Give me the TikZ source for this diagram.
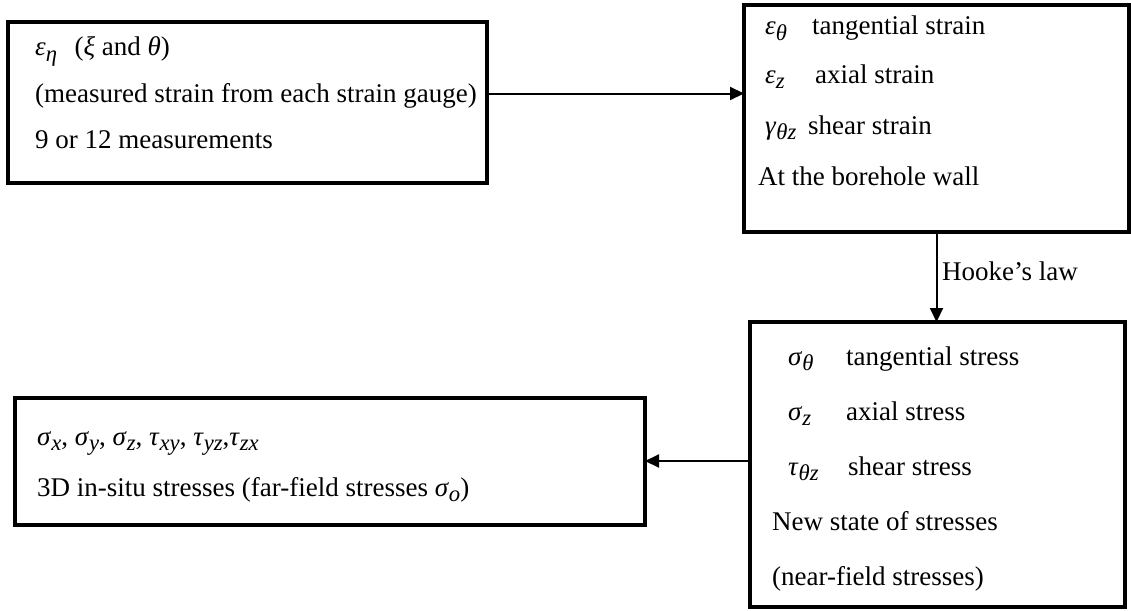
\documentclass[tikz,border=0pt]{standalone}
\usepackage{fontspec}
\usepackage{graphicx}
\setmainfont{Liberation Serif}
\usetikzlibrary{arrows.meta}
% Greek symbol with an italic subscript
\newcommand\gsym[2]{\textit{#1}\raisebox{-0.2em}{\scalebox{0.84}{\textit{#2}}}}
\begin{document}
\begin{tikzpicture}[x=1pt,y=-1pt,
  box/.style={draw,line width=3.5pt,inner sep=0pt,outer sep=0pt,anchor=north west},
  txt/.style={anchor=base west,inner sep=0pt,font=\fontsize{27}{32}\selectfont},
  conn/.style={line width=2pt,-{Triangle[length=14pt,width=13pt]}}]
\useasboundingbox (0,0) rectangle (1131,610);

% boxes
\node[box,minimum width=479pt,minimum height=161pt] (b1) at (8,22) {};
\node[box,minimum width=385pt,minimum height=227pt] (b2) at (744,5) {};
\node[box,minimum width=375pt,minimum height=285pt] (b3) at (750,322) {};
\node[box,minimum width=630pt,minimum height=127pt] (b4) at (15,398) {};

% measured strains
\node[txt] (t11) at (35,56) {\gsym{ε}{η}\hspace{0.4em} (\textit{ξ} and \textit{θ})};
\node[txt] (t12) at (35,102) {(measured strain from each strain gauge)};
\node[txt] (t13) at (35,148) {9 or 12 measurements};

% strains at the borehole wall
\node[txt] (s21) at (765,35) {\gsym{ε}{θ}};
\node[txt] (t21) at (812,35) {tangential strain};
\node[txt] (s22) at (765,83) {\gsym{ε}{z}};
\node[txt] (t22) at (815,83) {axial strain};
\node[txt] (s23) at (765,134) {\gsym{γ}{θz}};
\node[txt] (t23) at (808,134) {shear strain};
\node[txt] (t24) at (758,185) {At the borehole wall};

% near-field stresses
\node[txt] (s31) at (788,365) {\gsym{σ}{θ}};
\node[txt] (t31) at (846,365) {tangential stress};
\node[txt] (s32) at (788,420) {\gsym{σ}{z}};
\node[txt] (t32) at (846,420) {axial stress};
\node[txt] (s33) at (788,475) {\gsym{τ}{θz}};
\node[txt] (t33) at (848,475) {shear stress};
\node[txt] (t34) at (772,530) {New state of stresses};
\node[txt] (t35) at (772,585) {(near-field stresses)};

% far-field stresses
\node[txt] (t41) at (37,445) {\gsym{σ}{x}, \gsym{σ}{y}, \gsym{σ}{z}, \gsym{τ}{xy}, \gsym{τ}{yz},\gsym{τ}{zx}};
\node[txt] (t42) at (37,496) {3D in-situ stresses (far-field stresses \gsym{σ}{o})};

% connectors
\draw[conn] ([yshift=9pt]b1.east) -- ([yshift=9pt]b1.east -| b2.west);
\draw[conn] (b2.south) -- (b2.south |- b3.north);
\node[txt,anchor=west] (hl) at (942,271) {Hooke’s law};
\draw[conn] ([yshift=3.5pt]b3.west) -- ([yshift=3.5pt]b3.west -| b4.east);
\end{tikzpicture}
\end{document}
